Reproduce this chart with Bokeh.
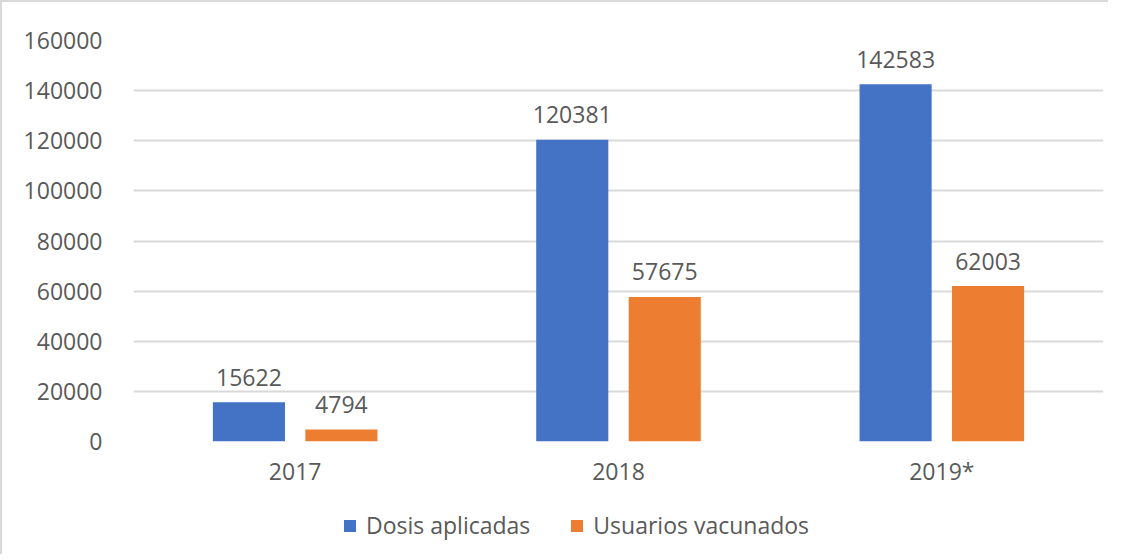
from bokeh.plotting import figure
from bokeh.models import (ColumnDataSource, FactorRange, Range1d, SingleIntervalTicker,
                          BasicTickFormatter, Legend, LegendItem, LabelSet)
from bokeh.layouts import column
from bokeh.transform import dodge
from bokeh.core.properties import value
from bokeh.embed import file_html
from bokeh.resources import INLINE

years = ["2017", "2018", "2019*"]
dosis_aplicadas = [15622, 120381, 142583]
usuarios_vacunados = [4794, 57675, 62003]
series_names = ["Dosis aplicadas", "Usuarios vacunados"]

BLUE = "#4472C4"
ORANGE = "#ED7D31"
TXT = "#595959"
GRID = "#D9D9D9"
FONT = "Open Sans"

W = 1106
H_MAIN = 489
H_LEG = 552 - H_MAIN

src = ColumnDataSource(dict(year=years, dosis=dosis_aplicadas, usuarios=usuarios_vacunados,
                            dosis_lbl=[str(v) for v in dosis_aplicadas],
                            usuarios_lbl=[str(v) for v in usuarios_vacunados]))

p = figure(x_range=FactorRange(*years), y_range=Range1d(0, 160000),
           width=W, height=H_MAIN, output_backend="svg", toolbar_location=None,
           min_border_left=131, min_border_right=5, min_border_top=38, min_border_bottom=50)
p.outline_line_color = None
p.background_fill_color = "white"
p.border_fill_color = "white"

off = 0.143
w = 0.223
r1 = p.vbar(x=dodge("year", -off, range=p.x_range), top="dosis", width=w, source=src,
            fill_color=BLUE, line_color=None)
r2 = p.vbar(x=dodge("year", off, range=p.x_range), top="usuarios", width=w, source=src,
            fill_color=ORANGE, line_color=None)

for col, lbl, o in [("dosis", "dosis_lbl", -off), ("usuarios", "usuarios_lbl", off)]:
    ls = LabelSet(x=dodge("year", o, range=p.x_range), y=col, text=lbl, source=src,
                  text_align="center", text_baseline="middle", y_offset=25,
                  text_font=value(FONT), text_font_size="23px", text_color=TXT)
    p.add_layout(ls)

# axes
p.yaxis.ticker = SingleIntervalTicker(interval=20000)
p.yaxis.formatter = BasicTickFormatter(use_scientific=False)
p.yaxis.axis_line_color = None
p.yaxis.major_tick_line_color = None
p.yaxis.minor_tick_line_color = None
p.yaxis.major_label_standoff = 25
p.yaxis.major_label_text_font = FONT
p.yaxis.major_label_text_font_size = "23px"
p.yaxis.major_label_text_color = TXT

p.xaxis.axis_line_color = None
p.xaxis.major_tick_line_color = None
p.xaxis.minor_tick_line_color = None
p.xaxis.major_label_standoff = 7
p.xaxis.major_label_text_font = FONT
p.xaxis.major_label_text_font_size = "23px"
p.xaxis.major_label_text_color = TXT

p.xgrid.grid_line_color = None
p.ygrid.grid_line_color = GRID
p.ygrid.grid_line_width = 2

# legend strip (separate figure below the chart); proxy renderers are hidden,
# only their legend swatches show
q = figure(width=W, height=H_LEG, x_range=FactorRange(*years), y_range=Range1d(0, 1),
           x_axis_type=None, y_axis_type=None, output_backend="svg", toolbar_location=None,
           min_border=0)
q.outline_line_color = None
q.grid.visible = False
q.border_fill_color = "white"
q.background_fill_color = "white"
l1 = q.vbar(x="year", top="dosis", width=w, source=src,
            fill_color=BLUE, line_color=None, visible=False)
l2 = q.vbar(x="year", top="usuarios", width=w, source=src,
            fill_color=ORANGE, line_color=None, visible=False)

legend = Legend(items=[LegendItem(label=series_names[0], renderers=[l1]),
                       LegendItem(label=series_names[1], renderers=[l2])],
                orientation="horizontal", location=(209, 13),
                padding=0, margin=0, spacing=39, label_standoff=9,
                glyph_width=15, glyph_height=15,
                label_text_font=FONT, label_text_font_size="23px",
                label_text_color=TXT, border_line_color=None,
                background_fill_alpha=0, inactive_fill_alpha=0)
q.add_layout(legend, "center")

layout = column(p, q, spacing=0)
layout.styles = {"border-top": "2px solid #D9D9D9", "border-left": "2px solid #D9D9D9"}

open("out.html", "w").write(file_html(layout, INLINE))
